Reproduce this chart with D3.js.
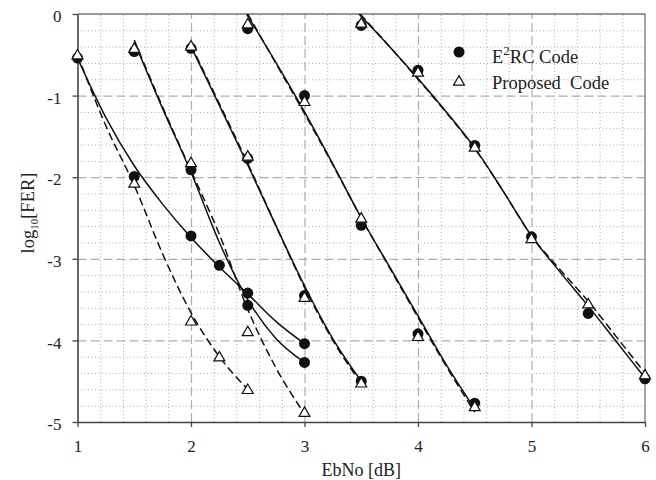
<!DOCTYPE html>
<html>
<head>
<meta charset="utf-8">
<script src="https://cdn.jsdelivr.net/npm/d3@7"></script>
<style>
  body { margin: 0; background: #fff; }
  svg text { font-family: "Liberation Serif", "Times New Roman", serif; fill: #222; }
</style>
</head>
<body>
<main></main>
<script>
(function() {
  // tick labels
  const xTicks = [1, 2, 3, 4, 5, 6];
  const yTicks = [0, -1, -2, -3, -4, -5];

  // simulated points, one array per code group, [EbNo, log10 FER]
  const e2rcPoints = [
    [[1, -0.54], [1.5, -1.99], [2, -2.72], [2.25, -3.08], [2.5, -3.42], [3, -4.04]],
    [[1.5, -0.46], [2, -1.91], [2.5, -3.57], [3, -4.27]],
    [[2, -0.42], [2.5, -1.77], [3, -3.45], [3.5, -4.5]],
    [[2.5, -0.18], [3, -1.0], [3.5, -2.59], [4, -3.92], [4.5, -4.77]],
    [[3.5, -0.14], [4, -0.69], [4.5, -1.61], [5, -2.73], [5.5, -3.67], [6, -4.47]]
  ];
  const proposedPoints = [
    [[1, -0.5], [1.5, -2.07], [2, -3.76], [2.25, -4.2], [2.5, -4.6]],
    [[1.5, -0.42], [2, -1.82], [2.5, -3.89], [3, -4.88]],
    [[2, -0.39], [2.5, -1.74], [3, -3.47], [3.5, -4.52]],
    [[2.5, -0.12], [3, -1.07], [3.5, -2.5], [4, -3.95], [4.5, -4.81]],
    [[3.5, -0.11], [4, -0.71], [4.5, -1.63], [5, -2.75], [5.5, -3.55], [6, -4.42]]
  ];

  // trend lines
  const e2rcTrend = [
    [[1, -0.54], [1.25, -1.27], [1.5, -1.86], [1.75, -2.33], [2, -2.74], [2.25, -3.1], [2.5, -3.43], [2.75, -3.77], [3, -4.04]],
    [[1.5, -0.34], [1.75, -1.16], [2, -1.94], [2.25, -2.8], [2.5, -3.5], [2.75, -3.98], [3, -4.27]],
    [[2, -0.4], [2.25, -1.12], [2.5, -1.85], [2.75, -2.6], [3, -3.33], [3.25, -3.98], [3.5, -4.5]],
    [[2.49, 0], [2.75, -0.6], [3, -1.2], [3.25, -1.84], [3.5, -2.5], [3.75, -3.1], [4, -3.7], [4.25, -4.3], [4.5, -4.84]],
    [[3.48, 0], [3.75, -0.4], [4, -0.79], [4.25, -1.2], [4.5, -1.64], [4.75, -2.17], [5, -2.72], [5.25, -3.16], [5.5, -3.58], [5.75, -4.02], [6, -4.46]]
  ];
  const proposedTrend = [
    [[1, -0.5], [1.25, -1.37], [1.5, -2.1], [1.75, -2.94], [2, -3.66], [2.25, -4.2], [2.5, -4.6]],
    [[1.5, -0.32], [1.75, -1.14], [2, -1.92], [2.25, -2.7], [2.5, -3.62], [2.75, -4.34], [3, -4.9]],
    [[2, -0.38], [2.25, -1.1], [2.5, -1.83], [2.75, -2.6], [3, -3.35], [3.25, -4.0], [3.5, -4.53]],
    [[2.5, 0], [2.75, -0.61], [3, -1.22], [3.25, -1.85], [3.5, -2.5], [3.75, -3.11], [4, -3.72], [4.25, -4.32], [4.5, -4.88]],
    [[3.49, 0], [3.75, -0.4], [4, -0.8], [4.25, -1.21], [4.5, -1.65], [4.75, -2.17], [5, -2.72], [5.25, -3.13], [5.5, -3.52], [5.75, -3.96], [6, -4.4]]
  ];

  const w = 656, h = 480;
  const m = { left: 77.5, top: 14, right: 11, bottom: 58 };
  const serif = "'Liberation Serif', 'Times New Roman', serif";

  const svg = d3.select("main").append("svg")
    .attr("width", w)
    .attr("height", h);

  const x = d3.scaleLinear().domain([1, 6]).range([m.left, w - m.right]);
  const y = d3.scaleLinear().domain([-5, 0]).range([h - m.bottom, m.top]);

  svg.append("clipPath").attr("id", "plot-clip")
    .append("rect")
    .attr("x", x(1)).attr("y", y(0))
    .attr("width", x(6) - x(1)).attr("height", y(-5) - y(0));

  // minor dotted grid every 0.2
  const minorX = d3.range(1, 6.001, 0.2).filter(v => Math.abs(v - Math.round(v)) > 0.01);
  const minorY = d3.range(-5, 0.001, 0.2).filter(v => Math.abs(v - Math.round(v)) > 0.01);

  svg.append("g")
    .attr("transform", `translate(0,${y(-5)})`)
    .call(d3.axisBottom(x).tickValues(minorX).tickSize(-(y(-5) - y(0))).tickFormat(""))
    .call(g => g.select(".domain").remove())
    .selectAll("line")
    .attr("stroke", "#aaa")
    .attr("stroke-dasharray", "1,2.5");

  svg.append("g")
    .attr("transform", `translate(${x(1)},0)`)
    .call(d3.axisLeft(y).tickValues(minorY).tickSize(-(x(6) - x(1))).tickFormat(""))
    .call(g => g.select(".domain").remove())
    .selectAll("line")
    .attr("stroke", "#aaa")
    .attr("stroke-dasharray", "1,2.5");

  // major dashed grid
  svg.append("g")
    .attr("transform", `translate(0,${y(-5)})`)
    .call(d3.axisBottom(x).tickValues(xTicks.slice(1, -1)).tickSize(-(y(-5) - y(0))).tickFormat(""))
    .call(g => g.select(".domain").remove())
    .selectAll("line")
    .attr("stroke", "#b8aaaa")
    .attr("stroke-width", 1.2)
    .attr("stroke-dasharray", "9,4");

  svg.append("g")
    .attr("transform", `translate(${x(1)},0)`)
    .call(d3.axisLeft(y).tickValues(yTicks.slice(1, -1)).tickSize(-(x(6) - x(1))).tickFormat(""))
    .call(g => g.select(".domain").remove())
    .selectAll("line")
    .attr("stroke", "#b8aaaa")
    .attr("stroke-width", 1.2)
    .attr("stroke-dasharray", "9,4");

  // top and right frame
  svg.append("path")
    .attr("d", `M${x(1)},${y(0)}H${x(6)}V${y(-5)}`)
    .attr("fill", "none")
    .attr("stroke", "#777")
    .attr("stroke-width", 1.3);

  const line = d3.line()
    .x(d => x(d[0]))
    .y(d => y(d[1]))
    .curve(d3.curveMonotoneX);

  const lines = svg.append("g").attr("clip-path", "url(#plot-clip)");

  lines.selectAll(".trend-e2rc")
    .data(e2rcTrend)
    .enter()
    .append("path")
    .attr("class", "trend-e2rc")
    .attr("d", line)
    .attr("fill", "none")
    .attr("stroke", "#111")
    .attr("stroke-width", 1.5);

  lines.selectAll(".trend-prop")
    .data(proposedTrend)
    .enter()
    .append("path")
    .attr("class", "trend-prop")
    .attr("d", line)
    .attr("fill", "none")
    .attr("stroke", "#111")
    .attr("stroke-width", 1.5)
    .attr("stroke-dasharray", "8,4");

  // axes
  const xAxis = svg.append("g")
    .attr("transform", `translate(0,${y(-5)})`)
    .call(d3.axisBottom(x).tickValues(xTicks).tickFormat(d => String(d))
      .tickSize(5).tickSizeOuter(0).tickPadding(13));
  const yAxis = svg.append("g")
    .attr("transform", `translate(${x(1)},0)`)
    .call(d3.axisLeft(y).tickValues(yTicks).tickFormat(d => String(d))
      .tickSize(5).tickSizeOuter(0).tickPadding(11));

  [xAxis, yAxis].forEach(g => {
    g.attr("font-family", serif).attr("font-size", 17);
    g.select(".domain").attr("stroke", "#444").attr("stroke-width", 1.6);
    g.selectAll(".tick line").attr("stroke", "#444").attr("stroke-width", 1.3);
    g.selectAll(".tick text").attr("fill", "#222");
  });
  yAxis.selectAll(".tick text").attr("dy", "0.45em");

  // markers
  const tri = d3.symbol().type(d3.symbolTriangle).size(52);

  const allE2rc = e2rcPoints.flat();
  const allProp = proposedPoints.flat();

  svg.append("g").selectAll("circle")
    .data(allE2rc)
    .enter()
    .append("circle")
    .attr("cx", d => x(d[0]))
    .attr("cy", d => y(d[1]))
    .attr("r", 5.5)
    .attr("fill", "#111");

  svg.append("g").selectAll("path")
    .data(allProp)
    .enter()
    .append("path")
    .attr("d", tri)
    .attr("transform", d => `translate(${x(d[0])},${y(d[1]) + 1})`)
    .attr("fill", "#fff")
    .attr("stroke", "#111")
    .attr("stroke-width", 1.2);

  // axis titles
  svg.append("text")
    .attr("x", (x(1) + x(6)) / 2)
    .attr("y", 476)
    .attr("text-anchor", "middle")
    .style("font-size", "18px")
    .text("EbNo [dB]");

  const yTitle = svg.append("text")
    .attr("transform", "translate(34,213) rotate(-90)")
    .attr("text-anchor", "middle")
    .style("font-size", "18.5px");
  yTitle.append("tspan").text("log");
  yTitle.append("tspan").attr("dy", 4).style("font-size", "11px").text("10");
  yTitle.append("tspan").attr("dy", -4).text("[FER]");

  // legend
  const legend = svg.append("g");
  legend.append("circle")
    .attr("cx", 459).attr("cy", 52).attr("r", 5.5).attr("fill", "#111");
  legend.append("path")
    .attr("d", tri)
    .attr("transform", "translate(459,82)")
    .attr("fill", "#fff")
    .attr("stroke", "#111")
    .attr("stroke-width", 1.2);

  const l1 = legend.append("text").attr("x", 492).attr("y", 63).style("font-size", "18.5px");
  l1.append("tspan").text("E");
  l1.append("tspan").attr("dy", -8).style("font-size", "13px").text("2");
  l1.append("tspan").attr("dy", 8).text("RC Code");

  legend.append("text")
    .attr("x", 492).attr("y", 89)
    .style("font-size", "18.5px")
    .style("white-space", "pre")
    .text("Proposed  Code");
})();
</script>
</body>
</html>
